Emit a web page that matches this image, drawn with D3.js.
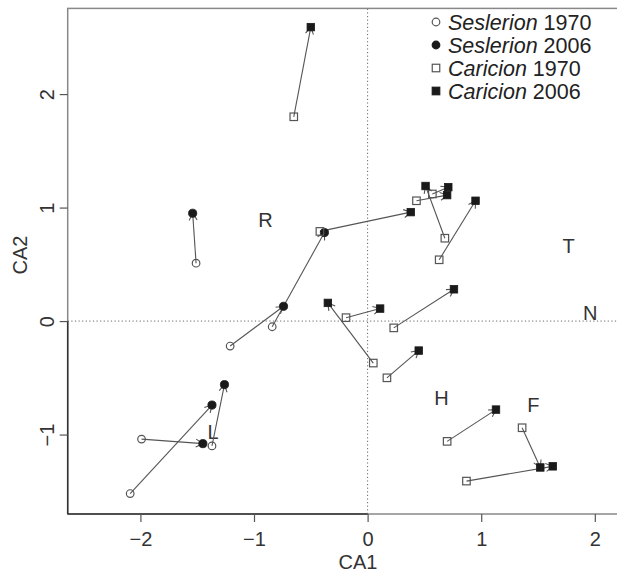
<!DOCTYPE html>
<html>
<head>
<meta charset="utf-8">
<script src="https://cdn.jsdelivr.net/npm/d3@7"></script>
<style>
  body { margin: 0; background: #fff; }
  svg { font-family: "Liberation Sans", Arial, sans-serif; }
</style>
</head>
<body>
<div id="chart"></div>
<script>
// CA scores of the sites, 1970 -> 2006
const seslerion1970 = [[-1.51, 0.51], [-1.21, -0.22], [-0.84, -0.05], [-2.09, -1.52], [-1.99, -1.04], [-1.37, -1.10]];
const seslerion2006 = [[-1.54, 0.95], [-0.74, 0.13], [-0.38, 0.78], [-1.37, -0.74], [-1.45, -1.08], [-1.26, -0.56]];
const caricion1970 = [[-0.65, 1.80], [-0.42, 0.79], [0.05, -0.37], [-0.19, 0.03], [0.23, -0.06], [0.17, -0.50],
                      [0.70, -1.06], [1.36, -0.94], [0.87, -1.41], [0.68, 0.73], [0.63, 0.54], [0.43, 1.06], [0.57, 1.12]];
const caricion2006 = [[-0.50, 2.59], [0.38, 0.96], [-0.35, 0.16], [0.11, 0.11], [0.76, 0.28], [0.45, -0.26],
                      [1.13, -0.78], [1.52, -1.29], [1.63, -1.28], [0.51, 1.19], [0.95, 1.06], [0.70, 1.11], [0.71, 1.18]];

// environmental indicator labels
const envLabels = ["R", "T", "N", "H", "F", "L"];
const envX = [-0.90, 1.77, 1.96, 0.65, 1.46, -1.36];
const envY = [0.89, 0.66, 0.07, -0.68, -0.74, -0.98];

const xTicks = [-2, -1, 0, 1, 2];
const yTicks = [-1, 0, 1, 2];
const legendGenus = ["Seslerion", "Seslerion", "Caricion", "Caricion"];
const legendYear = ["1970", "2006", "1970", "2006"];

const width = 617, height = 574;
const svg = d3.select("#chart").append("svg")
  .attr("width", width)
  .attr("height", height);

const x = d3.scaleLinear().domain([-2.64, 2.30]).range([67.7, 628.9]);
const y = d3.scaleLinear().domain([-1.70, 2.755]).range([514, 8.4]);

const grey = "#555";

// zero lines
svg.append("line")
  .attr("x1", x.range()[0]).attr("x2", x.range()[1])
  .attr("y1", y(0)).attr("y2", y(0))
  .attr("stroke", "#666").attr("stroke-dasharray", "1.2,2.4");
svg.append("line")
  .attr("x1", x(0)).attr("x2", x(0))
  .attr("y1", y.range()[0]).attr("y2", y.range()[1])
  .attr("stroke", "#666").attr("stroke-dasharray", "1.2,2.4");

// box
svg.append("rect")
  .attr("x", x.range()[0]).attr("y", y.range()[1])
  .attr("width", x.range()[1] - x.range()[0])
  .attr("height", y.range()[0] - y.range()[1])
  .attr("fill", "none").attr("stroke", "#888").attr("stroke-width", 1.5);

// darker axis pieces (as in the original)
svg.append("line")
  .attr("x1", x.range()[0]).attr("x2", x(0))
  .attr("y1", y.range()[0]).attr("y2", y.range()[0])
  .attr("stroke", "#333").attr("stroke-width", 1.5);
svg.append("line")
  .attr("x1", x.range()[0]).attr("x2", x.range()[0])
  .attr("y1", y(0)).attr("y2", y.range()[0])
  .attr("stroke", "#333").attr("stroke-width", 1.5);

// axes
const xAxis = svg.append("g")
  .attr("transform", `translate(0, ${y.range()[0]})`)
  .call(d3.axisBottom(x).tickValues(xTicks).tickSize(8).tickPadding(10).tickFormat(d3.format("d")));
const yAxis = svg.append("g")
  .attr("transform", `translate(${x.range()[0]}, 0)`)
  .call(d3.axisLeft(y).tickValues(yTicks).tickSize(8).tickFormat(d3.format("d")));
[xAxis, yAxis].forEach(g => {
  g.select(".domain").remove();
  g.selectAll(".tick line").attr("stroke", grey).attr("stroke-width", 1.2);
  g.selectAll(".tick text").attr("font-size", 20).attr("fill", "#333")
    .attr("font-family", "Liberation Sans, Arial, sans-serif");
});
yAxis.selectAll(".tick text")
  .attr("x", null).attr("dy", null)
  .attr("text-anchor", "middle")
  .attr("transform", "translate(-14, 0) rotate(-90)");

svg.append("text")
  .attr("x", 358).attr("y", 569)
  .attr("text-anchor", "middle").attr("font-size", 20).attr("fill", "#333")
  .text("CA1");
svg.append("text")
  .attr("transform", `translate(27, 255) rotate(-90)`)
  .attr("text-anchor", "middle").attr("font-size", 20).attr("fill", "#333")
  .text("CA2");

// env labels
svg.selectAll(".env")
  .data(envLabels)
  .enter().append("text")
  .attr("class", "env")
  .attr("x", (d, i) => x(envX[i]))
  .attr("y", (d, i) => y(envY[i]) + 7)
  .attr("text-anchor", "middle")
  .attr("font-size", 20).attr("fill", "#333")
  .text(d => d);

// arrows 1970 -> 2006
function drawArrows(from, to) {
  const g = svg.append("g").attr("stroke", grey).attr("stroke-width", 1.1).attr("fill", "none");
  from.forEach((p, i) => {
    const x0 = x(p[0]), y0 = y(p[1]), x1 = x(to[i][0]), y1 = y(to[i][1]);
    const ang = Math.atan2(y1 - y0, x1 - x0);
    const len = 8, spread = Math.PI / 6;
    g.append("line").attr("x1", x0).attr("y1", y0).attr("x2", x1).attr("y2", y1);
    g.append("path").attr("d",
      `M${x1 - len * Math.cos(ang - spread)},${y1 - len * Math.sin(ang - spread)}` +
      `L${x1},${y1}` +
      `L${x1 - len * Math.cos(ang + spread)},${y1 - len * Math.sin(ang + spread)}`);
  });
}
drawArrows(seslerion1970, seslerion2006);
drawArrows(caricion1970, caricion2006);

// points
const circleR = 3.8, sq = 7.5;
svg.selectAll(".s70").data(seslerion1970).enter().append("circle")
  .attr("cx", d => x(d[0])).attr("cy", d => y(d[1])).attr("r", circleR)
  .attr("fill", "none").attr("stroke", grey).attr("stroke-width", 1.2);
svg.selectAll(".s06").data(seslerion2006).enter().append("circle")
  .attr("cx", d => x(d[0])).attr("cy", d => y(d[1])).attr("r", circleR + 0.3)
  .attr("fill", "#1a1a1a").attr("stroke", "#1a1a1a").attr("stroke-width", 0.8);
svg.selectAll(".c70").data(caricion1970).enter().append("rect")
  .attr("x", d => x(d[0]) - sq / 2).attr("y", d => y(d[1]) - sq / 2)
  .attr("width", sq).attr("height", sq)
  .attr("fill", "none").attr("stroke", grey).attr("stroke-width", 1.2);
svg.selectAll(".c06").data(caricion2006).enter().append("rect")
  .attr("x", d => x(d[0]) - sq / 2).attr("y", d => y(d[1]) - sq / 2)
  .attr("width", sq).attr("height", sq)
  .attr("fill", "#1a1a1a").attr("stroke", "#1a1a1a").attr("stroke-width", 0.8);

// legend
const legend = svg.append("g");
const legX = 436, legY0 = 22, legDy = 23;
legendGenus.forEach((genus, i) => {
  const cy = legY0 + i * legDy;
  if (i < 2) {
    legend.append("circle").attr("cx", legX).attr("cy", cy).attr("r", circleR)
      .attr("fill", i === 1 ? "#1a1a1a" : "none")
      .attr("stroke", i === 1 ? "#1a1a1a" : grey).attr("stroke-width", 1.2);
  } else {
    legend.append("rect").attr("x", legX - sq / 2).attr("y", cy - sq / 2)
      .attr("width", sq).attr("height", sq)
      .attr("fill", i === 3 ? "#1a1a1a" : "none")
      .attr("stroke", i === 3 ? "#1a1a1a" : grey).attr("stroke-width", 1.2);
  }
  const t = legend.append("text")
    .attr("x", legX + 12).attr("y", cy + 7.5)
    .attr("font-size", 21.5).attr("fill", "#222");
  t.append("tspan").attr("font-style", "italic").text(genus);
  t.append("tspan").text(" " + legendYear[i]);
});
</script>
</body>
</html>
